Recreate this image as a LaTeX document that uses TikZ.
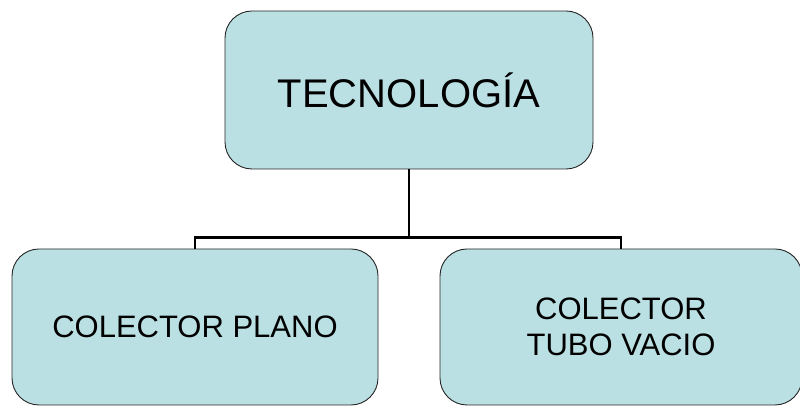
\documentclass[tikz,border=0pt]{standalone}
\usepackage{fontspec}
\setmainfont{Liberation Sans}
\usepackage{tikz}
\definecolor{orgfill}{HTML}{BBE0E3}
\tikzset{
  orgbox/.style={draw=black!85, line width=0.9pt, fill=orgfill,
    rounded corners=27pt, align=center, inner sep=0pt},
  orgline/.style={line width=2.2pt, black}
}

\begin{document}
\begin{tikzpicture}[x=1pt,y=1pt]
  % Frame
  \useasboundingbox (0,0) rectangle (800,406);
  % Boxes
  \node[orgbox, minimum width=368pt, minimum height=158pt,
    font=\fontsize{40}{48}\selectfont] (tec) at (409,316) {TECNOLOGÍA};
  \node[orgbox, minimum width=366pt, minimum height=156pt,
    font=\fontsize{31}{36}\selectfont] (plano) at (195,79) {COLECTOR PLANO};
  \node[orgbox, minimum width=362pt, minimum height=156pt,
    font=\fontsize{31}{36}\selectfont] (tubo) at (621,79) {COLECTOR\\ TUBO VACIO};
  % Connectors
  \draw[orgline] (tec.south) -- ++(0,-68) coordinate (bus);
  \draw[orgline] (bus) -| (plano.north);
  \draw[orgline] (bus) -| (tubo.north);
\end{tikzpicture}
\end{document}
